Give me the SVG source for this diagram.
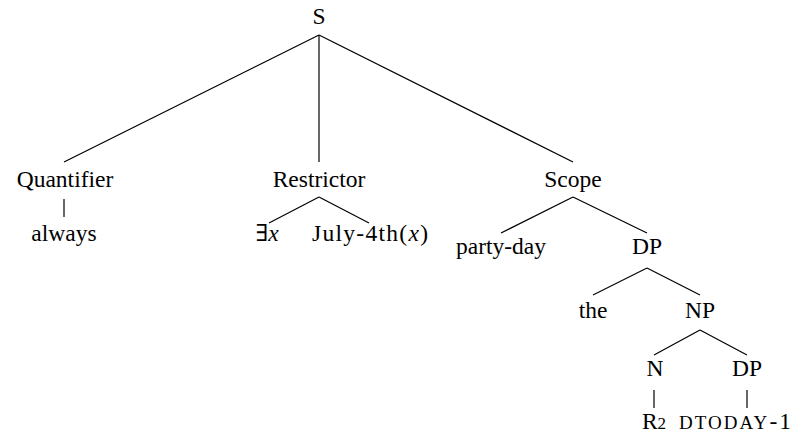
<svg xmlns="http://www.w3.org/2000/svg" width="794" height="434" viewBox="0 0 794 434">
<style>
text{font-family:"Liberation Serif","DejaVu Serif",serif;font-size:23.5px;fill:#000;text-anchor:middle}
.m{font-style:italic}
.sc{font-size:19px}
line{stroke:#000;stroke-width:1.2}
</style>
<rect width="794" height="434" fill="#fff"/>
<g id="connectors">
<line x1="319" y1="35" x2="64" y2="162"/>
<line x1="319" y1="35" x2="319" y2="162"/>
<line x1="319" y1="35" x2="573" y2="162"/>
<line x1="64" y1="199" x2="64" y2="217"/>
<line x1="319" y1="197" x2="269" y2="223"/>
<line x1="319" y1="197" x2="369" y2="223"/>
<line x1="573" y1="197" x2="501" y2="233"/>
<line x1="573" y1="197" x2="647" y2="233"/>
<line x1="647" y1="268" x2="593" y2="295"/>
<line x1="647" y1="268" x2="700" y2="295"/>
<line x1="700" y1="330" x2="654" y2="355"/>
<line x1="700" y1="330" x2="747" y2="355"/>
<line x1="654" y1="390" x2="654" y2="408"/>
<line x1="747" y1="390" x2="747" y2="408"/>
</g>
<g id="S"><text x="319" y="24">S</text></g>
<g id="Quantifier"><text x="65" y="187">Quantifier</text></g>
<g id="always"><text x="64" y="241">always</text></g>
<g id="Restrictor"><text x="319" y="187">Restrictor</text></g>
<g id="exists"><text x="267" y="241">∃<tspan class="m">x</tspan></text></g>
<g id="july"><text x="370" y="241" textLength="116" lengthAdjust="spacing">July-4th(<tspan class="m">x</tspan>)</text></g>
<g id="Scope"><text x="573" y="187">Scope</text></g>
<g id="partyday"><text x="501" y="254">party-day</text></g>
<g id="DP1"><text x="647" y="254">DP</text></g>
<g id="the"><text x="593" y="318">the</text></g>
<g id="NP"><text x="700" y="318">NP</text></g>
<g id="N"><text x="655" y="376">N</text></g>
<g id="DP2"><text x="747" y="376">DP</text></g>
<g id="R2"><text x="654" y="429">R<tspan font-size="17">2</tspan></text></g>
<g id="dtoday"><text x="735" y="429" textLength="112" lengthAdjust="spacing"><tspan class="sc">DTODAY</tspan>-1</text></g>
</svg>
